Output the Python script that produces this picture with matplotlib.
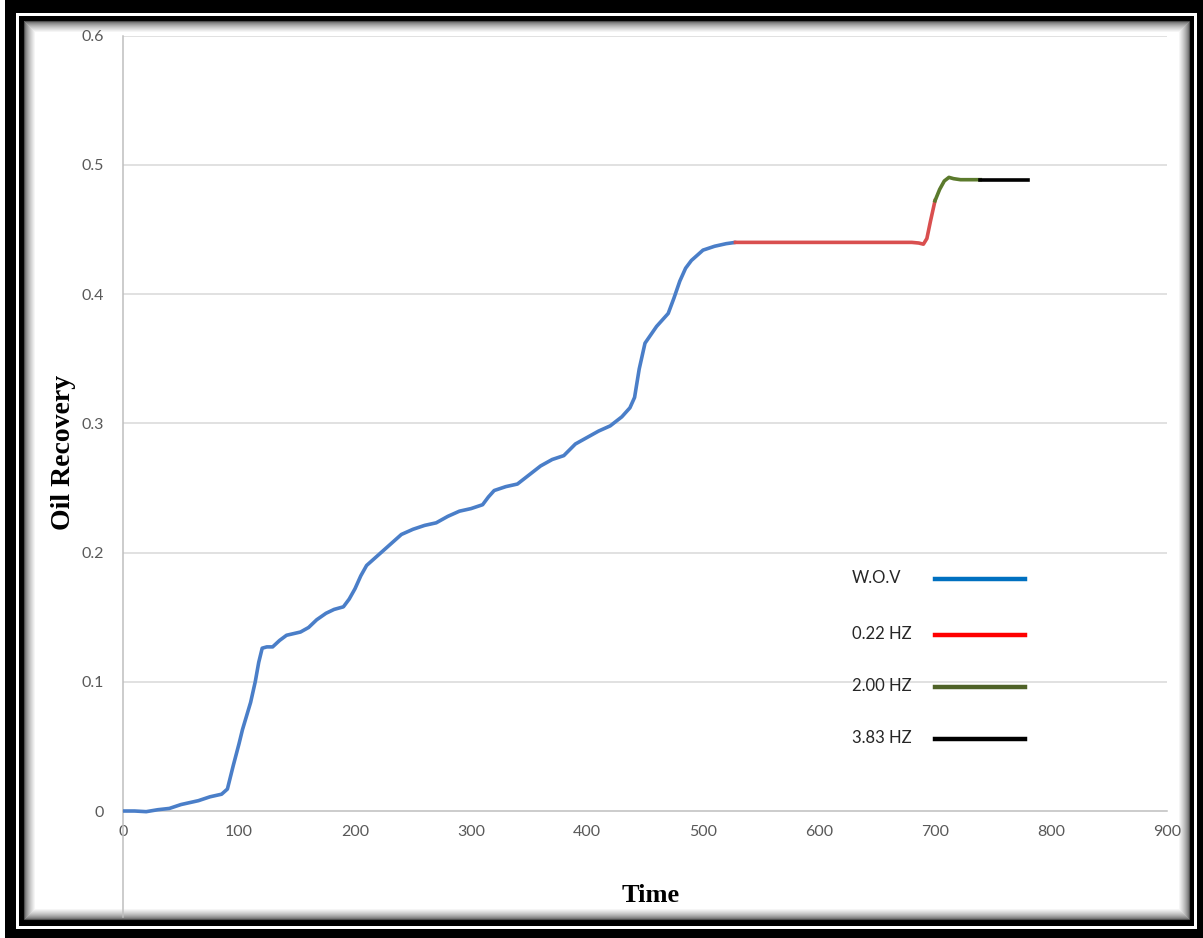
import matplotlib.pyplot as plt
from matplotlib.patches import Rectangle
from matplotlib.lines import Line2D

# data
wov_t = [0, 10, 20, 30, 40, 50, 55, 65, 75, 85, 90, 95, 100, 103, 110, 114, 117, 120,
         124, 129, 135, 141, 153, 160, 167, 175, 182, 190, 195, 200, 205, 210, 220, 230,
         240, 250, 260, 270, 280, 290, 300, 310, 315, 320, 330, 340, 350, 360, 370, 380,
         390, 400, 410, 420, 430, 437, 441, 445, 450, 460, 470, 475, 480, 485, 490, 500,
         510, 520, 528]
wov_v = [0.0, 0.0, -0.0005, 0.001, 0.002, 0.005, 0.006, 0.008, 0.011, 0.013, 0.017, 0.035,
         0.052, 0.063, 0.084, 0.1, 0.115, 0.126, 0.127, 0.127, 0.132, 0.136, 0.1385, 0.142,
         0.148, 0.153, 0.156, 0.158, 0.164, 0.172, 0.182, 0.19, 0.198, 0.206, 0.214, 0.218,
         0.221, 0.223, 0.228, 0.232, 0.234, 0.237, 0.243, 0.248, 0.251, 0.253, 0.26, 0.267,
         0.272, 0.275, 0.284, 0.289, 0.294, 0.298, 0.305, 0.312, 0.32, 0.342, 0.362, 0.375,
         0.385, 0.397, 0.41, 0.42, 0.426, 0.434, 0.437, 0.439, 0.44]

hz022_t = [528, 600, 680, 686, 690, 693, 696, 700]
hz022_v = [0.44, 0.44, 0.44, 0.4395, 0.4386, 0.443, 0.456, 0.4722]

hz200_t = [700, 704, 708, 712, 716, 722, 739]
hz200_v = [0.4722, 0.481, 0.4875, 0.4903, 0.4893, 0.4885, 0.4885]

hz383_t = [739, 780]
hz383_v = [0.4885, 0.4885]

labels = ['W.O.V', '0.22 HZ', '2.00 HZ', '3.83 HZ']
line_colors = ['#4A7EC8', '#D94F4F', '#5B7A2C', '#000000']
legend_colors = ['#0070C0', '#FF0000', '#4F6228', '#000000']

x_ticks = [0, 100, 200, 300, 400, 500, 600, 700, 800, 900]
y_ticks = [0, 0.1, 0.2, 0.3, 0.4, 0.5, 0.6]

W, H = 1203, 938
fig = plt.figure(figsize=(W / 100, H / 100), dpi=100)


def fx(px):
    return px / W


def fy(py):
    return 1 - py / H


def frame_rect(x0, y0, x1, y1, **kw):
    # rectangle given in picture pixels (y from the top)
    r = Rectangle((fx(x0), fy(y1)), fx(x1) - fx(x0), fy(y0) - fy(y1),
                  transform=fig.transFigure, **kw)
    fig.add_artist(r)


# black double frame with a soft inner shadow
frame_rect(5, 0, W, H, facecolor='black', edgecolor='none', zorder=-5)
frame_rect(16, 13, 1197, 929, facecolor='white', edgecolor='none', zorder=-4)
frame_rect(19, 16, 1194, 926, facecolor='black', edgecolor='none', zorder=-3)
frame_rect(24, 21, 1189, 919, facecolor='white', edgecolor='none', zorder=-2)
for i in range(12):
    g = 0.3 + 0.7 * (i / 11) ** 0.6
    frame_rect(24 + i, 21 + i, 1189 - i, 919 - i, facecolor='none',
               edgecolor=(g, g, g), linewidth=0.8, zorder=-1)

ax_left, ax_right, ax_top, ax_bottom = 123, 1167, 35.6, 917
ax = fig.add_axes([fx(ax_left), fy(ax_bottom), fx(ax_right) - fx(ax_left),
                   fy(ax_top) - fy(ax_bottom)])
ax.patch.set_alpha(0)

y0_px = 811
ax.set_xlim(0, 900)
ax.set_ylim(-(ax_bottom - y0_px) / 1292.5, 0.6)

for y in y_ticks[1:]:
    ax.axhline(y, color='#D9D9D9', linewidth=1.1, zorder=0)

lw = 2.6
ax.plot(wov_t, wov_v, color=line_colors[0], linewidth=lw, solid_joinstyle='round',
        solid_capstyle='round', zorder=3)
ax.plot(hz022_t, hz022_v, color=line_colors[1], linewidth=lw, solid_joinstyle='round',
        zorder=3)
ax.plot(hz200_t, hz200_v, color=line_colors[2], linewidth=lw, solid_joinstyle='round',
        zorder=3)
ax.plot(hz383_t, hz383_v, color=line_colors[3], linewidth=lw, solid_joinstyle='round',
        zorder=3)

for s in ['top', 'right']:
    ax.spines[s].set_visible(False)
ax.spines['bottom'].set_position(('data', 0))
ax.spines['bottom'].set_color('#BFBFBF')
ax.spines['left'].set_color('#BFBFBF')
ax.spines['bottom'].set_linewidth(1.1)
ax.spines['left'].set_linewidth(1.1)

tick_font = {'family': 'Lato', 'size': 11.5, 'color': '#595959'}
ax.set_xticks(x_ticks)
ax.set_xticklabels([str(v) for v in x_ticks], fontdict=tick_font)
ax.set_yticks(y_ticks)
ax.set_yticklabels(['0', '0.1', '0.2', '0.3', '0.4', '0.5', '0.6'], fontdict=tick_font)
ax.tick_params(axis='both', length=0)
ax.tick_params(axis='x', pad=10)
ax.tick_params(axis='y', pad=14)

fig.text(fx(63), fy(452), 'Oil Recovery', rotation=90, ha='center', va='center',
         family='Liberation Serif', weight='bold', size=20)
fig.text(fx(651), fy(895), 'Time', ha='center', va='center',
         family='Liberation Serif', weight='bold', size=19)

# legend drawn like the Excel one: label on the left, line on the right
legend_rows = [578, 634, 686, 738]
for lab, col, row in zip(labels, legend_colors, legend_rows):
    fig.text(fx(852), fy(row), lab, ha='left', va='center', family='Lato',
             size=12, color='#262626')
    fig.add_artist(Line2D([fx(935), fx(1025)], [fy(row + 1), fy(row + 1)],
                          transform=fig.transFigure, color=col, linewidth=3.2))

fig.savefig('out.png', dpi=100)
